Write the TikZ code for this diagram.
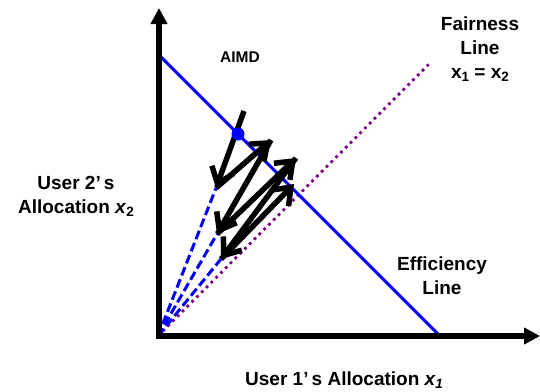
\documentclass[tikz,border=0pt]{standalone}
\usepackage{fontspec}
\setmainfont{Liberation Sans}
\usetikzlibrary{arrows.meta}
\definecolor{fairpurple}{RGB}{128,0,128}
\definecolor{effblue}{RGB}{0,0,255}
\newcommand\mysubs[1]{\raisebox{-0.3ex}{\fontsize{13.5}{13.5}\selectfont #1}}
\begin{document}
\begin{tikzpicture}[x=1pt,y=-1pt,
  lbl/.style={font=\fontsize{19}{24}\selectfont\bfseries, align=center, inner sep=0pt},
  axisline/.style={line width=5.5pt, -{Triangle[length=16pt,width=16pt]}},
  effline/.style={draw=effblue, line width=3pt},
  fairline/.style={draw=fairpurple, line width=2.8pt, dash pattern=on 2.8pt off 4pt},
  decline/.style={draw=effblue, line width=3pt, dash pattern=on 9pt off 4pt},
  aimdarrow/.style={line width=5.5pt, -{Straight Barb[length=15pt,width=23pt]}}]
\useasboundingbox (0,0) rectangle (540,391);
% coordinates
\coordinate (O) at (158,336);
\coordinate (Ytop) at (159,8);
\coordinate (Ybot) at (159,338.75);
\coordinate (Xleft) at (156.25,336);
\coordinate (Xend) at (540,336);
\coordinate (E1) at (159,55);
\coordinate (E2) at (440,336);
\coordinate (F2) at (430,63);
\coordinate (P0) at (244,111);
\coordinate (P1) at (216,188);
\coordinate (P2) at (271,140);
\coordinate (P3) at (217,234);
\coordinate (P4) at (296,158);
\coordinate (P5) at (221,259);
\coordinate (P6) at (294,184);
% lines
\draw[fairline] (O) -- (F2);
\draw[effline] (E1) -- (E2);
\draw[decline] (O) -- (P1);
\draw[decline] (O) -- (P3);
\draw[decline] (O) -- (P5);
% axes
\draw[axisline] (Ybot) -- (Ytop);
\draw[axisline] (Xleft) -- (Xend);
% AIMD trajectory
\draw[aimdarrow] (P0) -- (P1);
\draw[aimdarrow] (P1) -- (P2);
\draw[aimdarrow] (P2) -- (P3);
\draw[aimdarrow] (P3) -- (P4);
\draw[aimdarrow] (P4) -- (P5);
\draw[aimdarrow] (P5) -- (P6);
\fill[effblue] (238,134) circle (6.5pt) coordinate (start);
% labels
\node[lbl, font=\fontsize{15.5}{18}\selectfont\bfseries] (aimd) at (240,57) {AIMD};
\node[lbl] (fair) at (480,49) {Fairness\\Line\\x\mysubs{1} = x\mysubs{2}};
\node[lbl] (eff) at (442,276) {Efficiency\\Line};
\node[lbl] (user2) at (76,196) {User 2’\,s\\Allocation \textit{x}\mysubs{2}};
\node[lbl] (user1) at (344,380) {User 1’\,s Allocation \textit{x\mysubs{1}}};
\end{tikzpicture}
\end{document}
